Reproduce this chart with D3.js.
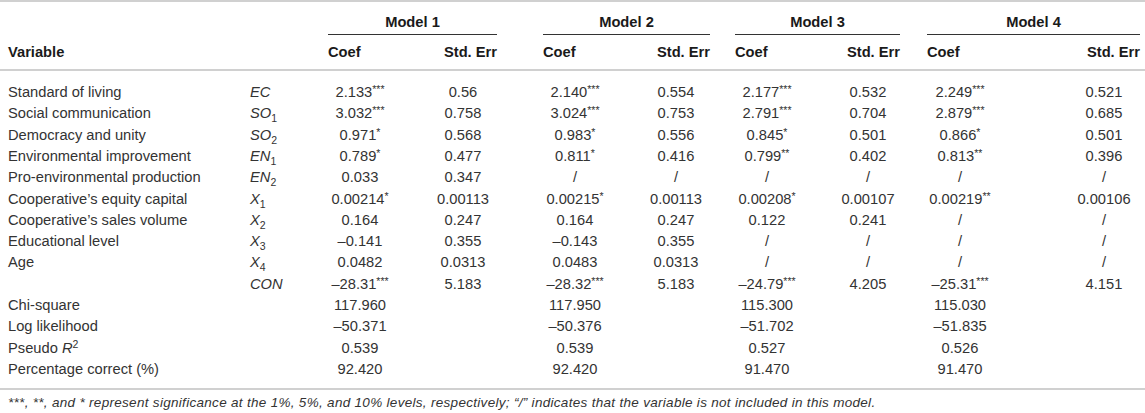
<!DOCTYPE html>
<html>
<head>
<meta charset="utf-8">
<script src="https://cdn.jsdelivr.net/npm/d3@7"></script>
<style>
body { margin: 0; background: #fff; }
text { font-family: "Liberation Sans", Arial, Helvetica, sans-serif; }
</style>
</head>
<body>
<div id="table"></div>
<script>
var width = 1145;
var height = 413;

// table content
var models = ["Model 1", "Model 2", "Model 3", "Model 4"];
var variables = ["Standard of living", "Social communication", "Democracy and unity",
  "Environmental improvement", "Pro-environmental production", "Cooperative\u2019s equity capital",
  "Cooperative\u2019s sales volume", "Educational level", "Age", ""];
var symbols = ["EC", "SO", "SO", "EN", "EN", "X", "X", "X", "X", "CON"];
var symbolSubs = ["", "1", "2", "1", "2", "1", "2", "3", "4", ""];

var m1Coef = ["2.133", "3.032", "0.971", "0.789", "0.033", "0.00214", "0.164", "\u20130.141", "0.0482", "\u201328.31"];
var m1Sig = ["***", "***", "*", "*", "", "*", "", "", "", "***"];
var m1Se = ["0.56", "0.758", "0.568", "0.477", "0.347", "0.00113", "0.247", "0.355", "0.0313", "5.183"];

var m2Coef = ["2.140", "3.024", "0.983", "0.811", "/", "0.00215", "0.164", "\u20130.143", "0.0483", "\u201328.32"];
var m2Sig = ["***", "***", "*", "*", "", "*", "", "", "", "***"];
var m2Se = ["0.554", "0.753", "0.556", "0.416", "/", "0.00113", "0.247", "0.355", "0.0313", "5.183"];

var m3Coef = ["2.177", "2.791", "0.845", "0.799", "/", "0.00208", "0.122", "/", "/", "\u201324.79"];
var m3Sig = ["***", "***", "*", "**", "", "*", "", "", "", "***"];
var m3Se = ["0.532", "0.704", "0.501", "0.402", "/", "0.00107", "0.241", "/", "/", "4.205"];

var m4Coef = ["2.249", "2.879", "0.866", "0.813", "/", "0.00219", "/", "/", "/", "\u201325.31"];
var m4Sig = ["***", "***", "*", "**", "", "**", "", "", "", "***"];
var m4Se = ["0.521", "0.685", "0.501", "0.396", "/", "0.00106", "/", "/", "/", "4.151"];

var statLabels = ["Chi-square", "Log likelihood", "Pseudo R", "Percentage correct (%)"];
var chiSquare = ["117.960", "117.950", "115.300", "115.030"];
var logLik = ["\u201350.371", "\u201350.376", "\u201351.702", "\u201351.835"];
var pseudoR2 = ["0.539", "0.539", "0.527", "0.526"];
var pctCorrect = ["92.420", "92.420", "91.470", "91.470"];

var footnote = "***, **, and * represent significance at the 1%, 5%, and 10% levels, respectively; \u201c/\u201d indicates that the variable is not included in this model.";

var coefs = [m1Coef, m2Coef, m3Coef, m4Coef];
var sigs = [m1Sig, m2Sig, m3Sig, m4Sig];
var ses = [m1Se, m2Se, m3Se, m4Se];
var stats = [chiSquare, logLik, pseudoR2, pctCorrect];

// layout
var modelLeft = d3.scaleOrdinal().domain(models).range([328, 543, 735, 927]);
var modelRight = d3.scaleOrdinal().domain(models).range([497, 710, 900, 1140]);
var coefX = d3.scaleOrdinal().domain(models).range([360, 575, 767, 960]);
var seX = d3.scaleOrdinal().domain(models).range([463, 676, 868, 1104]);

var nRows = variables.length + statLabels.length;
var yRow = d3.scalePoint().domain(d3.range(nRows)).range([92, 369]);

var textColor = "#333";
var headColor = "#1a1a1a";
var fs = 14.7;
var small = 10.5;

var svg = d3.select("#table").append("svg")
  .attr("width", width)
  .attr("height", height);

// rules
svg.append("rect").attr("x", 0).attr("y", 0).attr("width", width).attr("height", 2).attr("fill", "#d0d0d0");
svg.append("rect").attr("x", 0).attr("y", 69).attr("width", width).attr("height", 2).attr("fill", "#d0d0d0");
svg.append("rect").attr("x", 0).attr("y", 388).attr("width", width).attr("height", 2).attr("fill", "#d0d0d0");

// model headers
svg.selectAll(".model").data(models).enter().append("text")
  .attr("class", "model")
  .attr("x", function(d) { return (modelLeft(d) + modelRight(d)) / 2; })
  .attr("y", 27)
  .attr("text-anchor", "middle")
  .attr("font-size", fs).attr("font-weight", "bold").attr("fill", headColor)
  .text(function(d) { return d; });

svg.selectAll(".mline").data(models).enter().append("line")
  .attr("class", "mline")
  .attr("x1", function(d) { return modelLeft(d); })
  .attr("x2", function(d) { return modelRight(d); })
  .attr("y1", 34.5).attr("y2", 34.5)
  .attr("stroke", "#333").attr("stroke-width", 1);

// column headers
svg.append("text").attr("x", 8).attr("y", 57)
  .attr("font-size", fs).attr("font-weight", "bold").attr("fill", headColor)
  .text("Variable");

svg.selectAll(".hcoef").data(models).enter().append("text")
  .attr("class", "hcoef")
  .attr("x", function(d) { return modelLeft(d); })
  .attr("y", 57)
  .attr("font-size", fs).attr("font-weight", "bold").attr("fill", headColor)
  .text("Coef");

svg.selectAll(".hse").data(models).enter().append("text")
  .attr("class", "hse")
  .attr("x", function(d) { return modelRight(d); })
  .attr("y", 57)
  .attr("text-anchor", "end")
  .attr("font-size", fs).attr("font-weight", "bold").attr("fill", headColor)
  .text("Std. Err");

// variable labels
svg.selectAll(".vlabel").data(variables).enter().append("text")
  .attr("class", "vlabel")
  .attr("x", 8)
  .attr("y", function(d, i) { return yRow(i) + 5; })
  .attr("font-size", fs).attr("fill", textColor)
  .text(function(d) { return d; });

// symbols
var sym = svg.selectAll(".sym").data(symbols).enter().append("text")
  .attr("class", "sym")
  .attr("x", 250)
  .attr("y", function(d, i) { return yRow(i) + 5; })
  .attr("font-size", fs).attr("fill", textColor);
sym.append("tspan").attr("font-style", "italic").text(function(d) { return d; });
sym.append("tspan").attr("font-size", small).attr("dy", 4)
  .text(function(d, i) { return symbolSubs[i]; });

// coefficients and std errors
models.forEach(function(m, k) {
  var c = svg.selectAll(".coef" + k).data(coefs[k]).enter().append("text")
    .attr("class", "coef" + k)
    .attr("x", coefX(m))
    .attr("y", function(d, i) { return yRow(i) + 5; })
    .attr("text-anchor", "middle")
    .attr("font-size", fs).attr("fill", textColor);
  c.append("tspan").text(function(d) { return d; });
  c.append("tspan").attr("font-size", small).attr("dy", -4)
    .text(function(d, i) { return sigs[k][i]; });

  svg.selectAll(".se" + k).data(ses[k]).enter().append("text")
    .attr("class", "se" + k)
    .attr("x", seX(m))
    .attr("y", function(d, i) { return yRow(i) + 5; })
    .attr("text-anchor", "middle")
    .attr("font-size", fs).attr("fill", textColor)
    .text(function(d) { return d; });

  svg.selectAll(".stat" + k).data(stats).enter().append("text")
    .attr("class", "stat" + k)
    .attr("x", coefX(m))
    .attr("y", function(d, i) { return yRow(variables.length + i) + 5; })
    .attr("text-anchor", "middle")
    .attr("font-size", fs).attr("fill", textColor)
    .text(function(d) { return d[k]; });
});

// stats labels
var sl = svg.selectAll(".slabel").data(statLabels).enter().append("text")
  .attr("class", "slabel")
  .attr("x", 8)
  .attr("y", function(d, i) { return yRow(variables.length + i) + 5; })
  .attr("font-size", fs).attr("fill", textColor);
sl.append("tspan").text(function(d) { return d === "Pseudo R" ? "Pseudo " : d; });
sl.filter(function(d) { return d === "Pseudo R"; }).append("tspan")
  .attr("font-style", "italic").text("R");
sl.filter(function(d) { return d === "Pseudo R"; }).append("tspan")
  .attr("font-size", small).attr("dy", -5).text("2");

// footnote
svg.append("text").attr("x", 8).attr("y", 407)
  .attr("font-size", 13.5).attr("font-style", "italic").attr("fill", textColor)
  .attr("letter-spacing", 0.3)
  .text(footnote);
</script>
</body>
</html>
